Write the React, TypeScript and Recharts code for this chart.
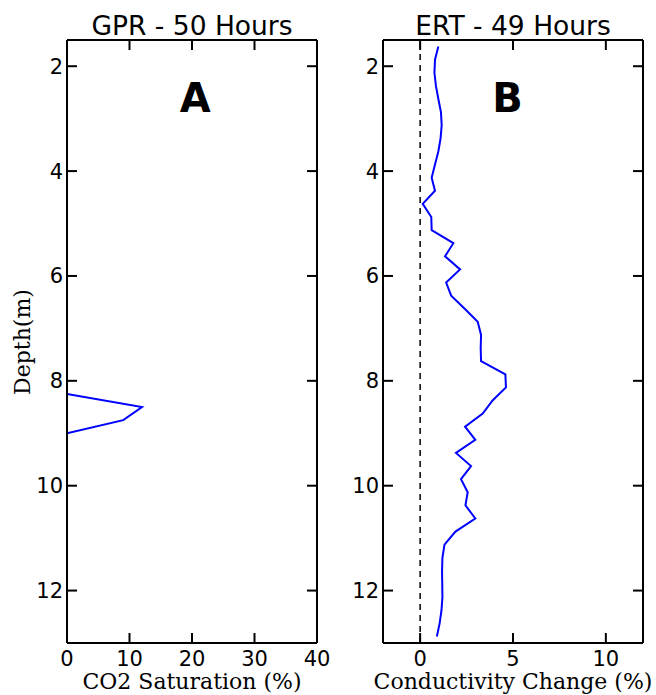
import { LineChart, Line, XAxis, YAxis, ReferenceLine, ReferenceDot } from "recharts";

// depth ticks shared by both panels
const depthTicks = [2, 4, 6, 8, 10, 12];

// GPR - 50 hours
const gprDepth = [8.25, 8.5, 8.75, 9.0];
const gprSaturation = [0, 12, 9, 0];
const gprTicks = [0, 10, 20, 30, 40];

// ERT - 49 hours
const ertDepth = [
  1.625, 1.875, 2.125, 2.375, 2.625, 2.875, 3.125, 3.375, 3.625, 3.875,
  4.125, 4.375, 4.625, 4.875, 5.125, 5.375, 5.625, 5.875, 6.125, 6.375,
  6.625, 6.875, 7.125, 7.375, 7.625, 7.875, 8.125, 8.375, 8.625, 8.875,
  9.125, 9.375, 9.625, 9.875, 10.125, 10.375, 10.625, 10.875, 11.125, 11.375,
  11.625, 11.875, 12.125, 12.375, 12.625, 12.875,
];
const ertChange = [
  0.98, 0.8, 0.77, 0.85, 0.98, 1.12, 1.16, 1.1, 0.98, 0.8,
  0.62, 0.8, 0.14, 0.6, 0.62, 1.79, 1.34, 2.15, 1.4, 1.67,
  2.4, 3.1, 3.28, 3.26, 3.28, 4.59, 4.62, 3.9, 3.37, 2.42,
  2.97, 1.93, 2.74, 2.2, 2.56, 2.44, 2.97, 1.9, 1.31, 1.2,
  1.18, 1.19, 1.2, 1.15, 1.05, 0.9,
];
const ertTicks = [0, 5, 10];

const gprData = gprDepth.map((depth, i) => ({ depth, value: gprSaturation[i] }));
const ertData = ertDepth.map((depth, i) => ({ depth, value: ertChange[i] }));

const line = { stroke: "#000", strokeWidth: 2 };
const tickFont = { fill: "#000", fontSize: 21, fontFamily: "DejaVu Sans" };
const noLabel = () => <g />;

interface PanelProps {
  data: { depth: number; value: number }[];
  xDomain: [number, number];
  xTicks: number[];
  title: string;
  xLabel: string;
  letter: string;
  letterX: number;
  width: number;
  marginLeft: number;
  zeroLine?: boolean;
}

const Panel = ({ data, xDomain, xTicks, title, xLabel, letter, letterX, width, marginLeft, zeroLine }: PanelProps) => (
  <LineChart
    layout="vertical"
    width={width}
    height={695}
    data={data}
    margin={{ top: 39, right: 12, bottom: 0, left: marginLeft }}
  >
    <XAxis
      type="number"
      domain={xDomain}
      ticks={xTicks}
      allowDataOverflow
      height={52}
      axisLine={line}
      tickLine={line}
      tickSize={-10}
      tickMargin={18}
      tick={tickFont}
      label={{ value: xLabel, position: "insideBottom", offset: 6, fill: "#000", fontSize: 22, fontFamily: "DejaVu Serif" }}
    />
    <XAxis
      xAxisId="top"
      orientation="top"
      type="number"
      domain={xDomain}
      ticks={xTicks}
      allowDataOverflow
      height={1}
      axisLine={line}
      tickLine={line}
      tickSize={-10}
      tick={noLabel}
      label={{ value: title, position: "top", offset: 4, fill: "#000", fontSize: 26.5, fontFamily: "DejaVu Sans" }}
    />
    <YAxis
      type="number"
      dataKey="depth"
      domain={[1.5, 13]}
      ticks={depthTicks}
      allowDataOverflow
      width={50}
      axisLine={line}
      tickLine={line}
      tickSize={-10}
      tickMargin={14}
      tick={tickFont}
    />
    <YAxis
      yAxisId="right"
      orientation="right"
      type="number"
      dataKey="depth"
      domain={[1.5, 13]}
      ticks={depthTicks}
      allowDataOverflow
      width={1}
      axisLine={line}
      tickLine={line}
      tickSize={-10}
      tick={noLabel}
    />
    {zeroLine && <ReferenceLine x={0} stroke="#000" strokeWidth={1.5} strokeDasharray="6 5" />}
    <ReferenceDot
      x={letterX}
      y={2.6}
      r={1}
      fill="none"
      stroke="none"
      label={{ value: letter, position: "center", fill: "#000", fontSize: 40, fontWeight: "bold", fontFamily: "DejaVu Sans" }}
    />
    {/* invisible copy so the frame axes get a scale */}
    <Line
      xAxisId="top"
      yAxisId="right"
      dataKey="value"
      stroke="none"
      dot={false}
      activeDot={false}
      legendType="none"
      isAnimationActive={false}
    />
    <Line dataKey="value" stroke="#0000ff" strokeWidth={2} dot={false} isAnimationActive={false} />
  </LineChart>
);

export default function App() {
  return (
    <div style={{ position: "absolute", left: 0, top: 0, width: 656, height: 695, background: "#fff" }}>
      <div style={{ position: "absolute", left: 0, top: 0 }}>
        <Panel
          data={gprData}
          xDomain={[0, 40]}
          xTicks={gprTicks}
          title="GPR - 50 Hours"
          xLabel="CO2 Saturation (%)"
          letter="A"
          letterX={20.5}
          width={330}
          marginLeft={17}
        />
      </div>
      <div style={{ position: "absolute", left: 330, top: 0 }}>
        <Panel
          data={ertData}
          xDomain={[-2, 12]}
          xTicks={ertTicks}
          title="ERT - 49 Hours"
          xLabel="Conductivity Change (%)"
          letter="B"
          letterX={4.7}
          width={326}
          marginLeft={3}
          zeroLine
        />
      </div>
      <div
        style={{
          position: "absolute",
          left: 22,
          top: 342,
          transform: "translate(-50%, -50%) rotate(-90deg)",
          fontFamily: "DejaVu Serif",
          fontSize: 22,
          whiteSpace: "nowrap",
          color: "#000",
        }}
      >
        Depth(m)
      </div>
    </div>
  );
}
